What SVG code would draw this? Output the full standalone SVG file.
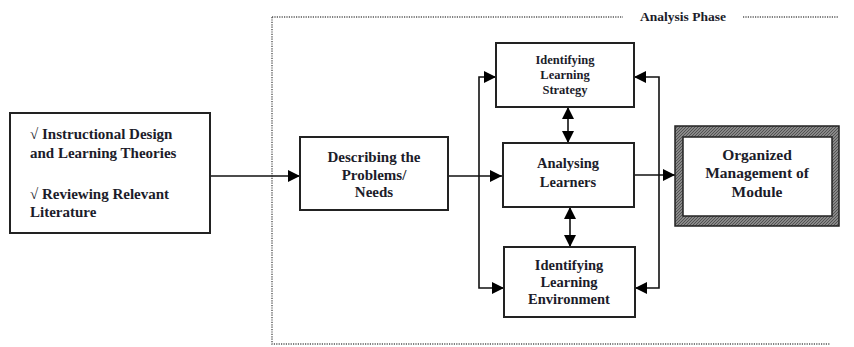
<svg xmlns="http://www.w3.org/2000/svg" width="854" height="347" viewBox="0 0 854 347">
<style>
.box{fill:#fff;stroke:#222;stroke-width:2}
.ln{fill:none;stroke:#111;stroke-width:1.6}
.dot{fill:none;stroke:#555;stroke-width:1.4;stroke-dasharray:1.2 1.2}
text{font-family:"Liberation Serif","Times New Roman",serif;font-weight:bold;fill:#1c1c2a}
.t15{font-size:15px}
.t14{font-size:14.5px}
.t12{font-size:12.5px}
.c{text-anchor:middle}
</style>
<defs>
<marker id="ah" markerUnits="userSpaceOnUse" markerWidth="12" markerHeight="12" viewBox="0 0 12 12" refX="12" refY="6" orient="auto-start-reverse">
<path d="M0,0 L12,6 L0,12 Z" fill="#000"/>
</marker>
<pattern id="hatch" width="3" height="3" patternUnits="userSpaceOnUse">
<rect width="3" height="3" fill="#888"/>
<path d="M0,3 L3,0" stroke="#444" stroke-width="0.8"/>
</pattern>
</defs>
<g id="frame">
<path class="dot" d="M272,17 H623 M743,17 H838 M272,17 V344 H830"/>
<text x="640" y="21" style="font-size:13.5px">Analysis Phase</text>
</g>
<g id="connectors">
<line class="ln" x1="211" y1="176" x2="300" y2="176" marker-end="url(#ah)"/>
<line class="ln" x1="448" y1="176" x2="502" y2="176" marker-end="url(#ah)"/>
<path class="ln" d="M496,77 H479 V288 H504" marker-start="url(#ah)" marker-end="url(#ah)"/>
<path class="ln" d="M634,77 H659 V288 H635" marker-start="url(#ah)" marker-end="url(#ah)"/>
<line class="ln" x1="634" y1="175" x2="675" y2="175" marker-end="url(#ah)"/>
<line class="ln" x1="568" y1="107" x2="568" y2="143" marker-start="url(#ah)" marker-end="url(#ah)"/>
<line class="ln" x1="570" y1="207" x2="570" y2="247" marker-start="url(#ah)" marker-end="url(#ah)"/>
</g>
<g id="theories">
<rect class="box" x="10" y="113" width="200" height="120"/>
<text class="t15" x="30" y="139">√ Instructional Design</text>
<text class="t15" x="30" y="158">and Learning Theories</text>
<text class="t15" x="30" y="199">√ Reviewing Relevant</text>
<text class="t15" x="30" y="217">Literature</text>
</g>
<g id="describing">
<rect class="box" x="300" y="137" width="148" height="73"/>
<text class="t15 c" x="374" y="162">Describing the</text>
<text class="t15 c" x="374" y="180">Problems/</text>
<text class="t15 c" x="374" y="197">Needs</text>
</g>
<g id="strategy">
<rect class="box" x="496" y="43" width="138" height="64"/>
<text class="t12 c" x="565" y="64">Identifying</text>
<text class="t12 c" x="565" y="79">Learning</text>
<text class="t12 c" x="565" y="94">Strategy</text>
</g>
<g id="analysing">
<rect class="box" x="503" y="143" width="131" height="64"/>
<text class="t14 c" x="568" y="168">Analysing</text>
<text class="t14 c" x="568" y="187">Learners</text>
</g>
<g id="environment">
<rect class="box" x="504" y="247" width="131" height="70"/>
<text class="t14 c" x="569" y="270">Identifying</text>
<text class="t14 c" x="569" y="287">Learning</text>
<text class="t14 c" x="569" y="304">Environment</text>
</g>
<g id="organized">
<rect x="675" y="126" width="164" height="100" fill="url(#hatch)" stroke="#222" stroke-width="1.5"/>
<rect x="683" y="137" width="149" height="79" fill="#fff" stroke="#222" stroke-width="1.5"/>
<text class="t15 c" x="757" y="160" style="font-size:15.5px">Organized</text>
<text class="t15 c" x="757" y="178" style="font-size:15.5px">Management of</text>
<text class="t15 c" x="757" y="197" style="font-size:15.5px">Module</text>
</g>
</svg>
